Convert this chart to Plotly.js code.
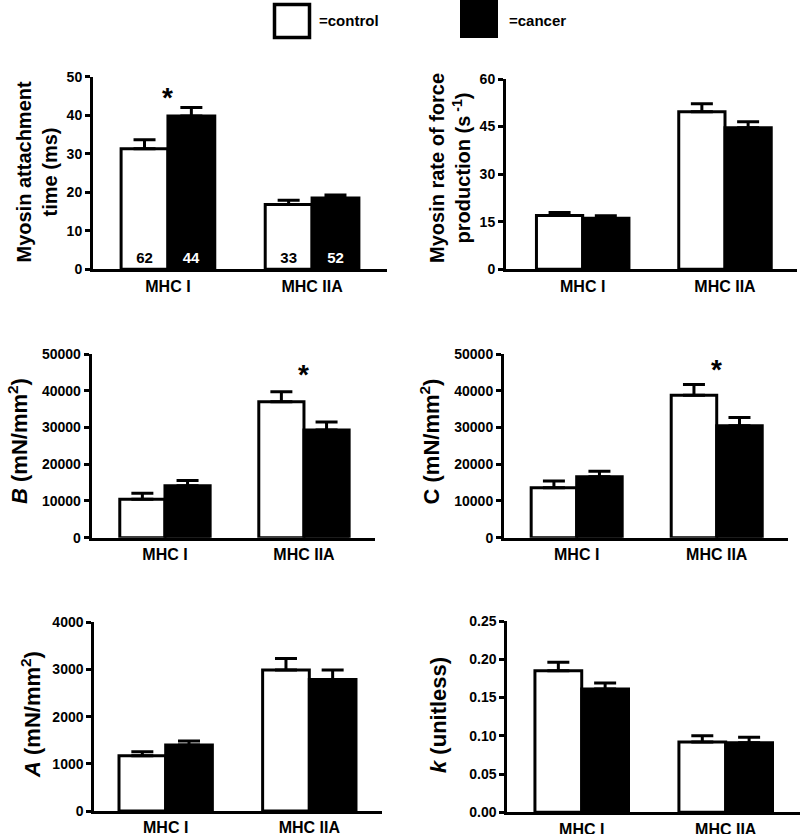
<!DOCTYPE html>
<html>
<head>
<meta charset="utf-8">
<script src="https://cdn.plot.ly/plotly-3.0.1.min.js"></script>
<style>html,body{margin:0;padding:0;background:#fff;}#chart{width:800px;height:834px;}</style>
</head>
<body>
<div id="chart"></div>
<script>
// ---- data ----
const categories = ['MHC I', 'MHC IIA'];
const groupNames = ['=control', '=cancer'];

const attachControl = [31.3, 16.8];
const attachControlErr = [2.3, 1.1];
const attachCancer = [39.8, 18.5];
const attachCancerErr = [2.2, 0.8];
const nControl = [62, 33];
const nCancer = [44, 52];

const rateControl = [17.0, 49.7];
const rateControlErr = [0.9, 2.5];
const rateCancer = [16.1, 44.6];
const rateCancerErr = [0.8, 1.9];

const bControl = [10450, 37000];
const bControlErr = [1630, 2700];
const bCancer = [14150, 29300];
const bCancerErr = [1400, 2200];

const cControl = [13600, 38800];
const cControlErr = [1800, 2900];
const cCancer = [16600, 30500];
const cCancerErr = [1500, 2200];

const aControl = [1170, 2990];
const aControlErr = [85, 240];
const aCancer = [1400, 2790];
const aCancerErr = [85, 200];

const kControl = [0.185, 0.092];
const kControlErr = [0.011, 0.008];
const kCancer = [0.161, 0.091];
const kCancerErr = [0.008, 0.007];

const yTitles = [
  'Myosin attachment<br>time (ms)',
  'Myosin rate of force<br>production (s<sup> -1</sup>)',
  '<i>B</i> (mN/mm<sup>2</sup>)',
  'C (mN/mm<sup>2</sup>)',
  '<i>A</i> (mN/mm<sup>2</sup>)',
  '<i>k</i> (unitless)'
];
const yRanges = [[0, 50], [0, 60], [0, 50000], [0, 50000], [0, 4000], [0, 0.25]];
const yDticks = [10, 15, 10000, 10000, 1000, 0.05];
const yFormats = ['d', 'd', 'd', 'd', 'd', '.2f'];
// significance marker per panel: [panel index, category, y]
const sigMarks = [[0, 'MHC I', 44.6], [2, 'MHC IIA', 44500], [3, 'MHC IIA', 45900]];

// ---- layout geometry ----
const W = 800, H = 834;
const px = v => v / W;
const py = v => 1 - v / H;
const panels = [
  {x: [93, 387], y: [269.3, 76.7], r: [-0.52, 1.52]},
  {x: [506, 797], y: [269.3, 79], r: [-0.539, 1.506]},
  {x: [91.7, 375], y: [537.7, 354], r: [-0.527, 1.511]},
  {x: [504, 788], y: [537.7, 354], r: [-0.519, 1.509]},
  {x: [94.3, 381.7], y: [811, 622.3], r: [-0.497, 1.504]},
  {x: [507.3, 800], y: [812.3, 621], r: [-0.517, 1.516]}
];
const titlePos = [
  {x: 36.5, y: 172, s: 20},
  {x: 450, y: 168, s: 20},
  {x: 18, y: 441, s: 22},
  {x: 429, y: 441.5, s: 22},
  {x: 31, y: 715, s: 22},
  {x: 438, y: 715, s: 22}
];

const FONT = 'Liberation Sans, Arial, sans-serif';
const series = [
  [attachControl, attachControlErr, attachCancer, attachCancerErr],
  [rateControl, rateControlErr, rateCancer, rateCancerErr],
  [bControl, bControlErr, bCancer, bCancerErr],
  [cControl, cControlErr, cCancer, cCancerErr],
  [aControl, aControlErr, aCancer, aCancerErr],
  [kControl, kControlErr, kCancer, kCancerErr]
];

const traces = [];
const layout = {
  width: W, height: H,
  margin: {l: 0, r: 0, t: 0, b: 0},
  paper_bgcolor: '#fff', plot_bgcolor: 'rgba(0,0,0,0)',
  showlegend: false,
  barmode: 'group', bargap: 0.35, bargroupgap: 0,
  font: {family: FONT, color: '#000', weight: 'bold'},
  annotations: [], shapes: []
};

series.forEach((s, i) => {
  const xa = 'x' + (i === 0 ? '' : i + 1);
  const ya = 'y' + (i === 0 ? '' : i + 1);
  const errStyle = arr => ({type: 'data', symmetric: false, array: arr, arrayminus: [0, 0],
    color: '#000', thickness: 3, width: 11});
  const ctrl = {
    type: 'bar', x: categories, y: s[0], name: groupNames[0], xaxis: xa, yaxis: ya,
    marker: {color: '#fff', line: {color: '#000', width: 3}},
    error_y: errStyle(s[1]), hoverinfo: 'none'
  };
  const canc = {
    type: 'bar', x: categories, y: s[2], name: groupNames[1], xaxis: xa, yaxis: ya,
    marker: {color: '#000', line: {color: '#000', width: 3}},
    error_y: errStyle(s[3]), hoverinfo: 'none'
  };
  if (i === 0) {
    Object.assign(ctrl, {text: nControl.map(String), textposition: 'inside', insidetextanchor: 'start',
      textangle: 0, constraintext: 'none', textfont: {color: '#000', size: 15, family: FONT, weight: 'bold'}});
    Object.assign(canc, {text: nCancer.map(String), textposition: 'inside', insidetextanchor: 'start',
      textangle: 0, constraintext: 'none', textfont: {color: '#fff', size: 15, family: FONT, weight: 'bold'}});
  }
  traces.push(ctrl, canc);

  const p = panels[i];
  const key = i === 0 ? '' : String(i + 1);
  layout['xaxis' + key] = {
    domain: [px(p.x[0]), px(p.x[1])], anchor: ya, range: p.r, type: 'category',
    showline: true, linecolor: '#000', linewidth: 3, ticks: '', showgrid: false, zeroline: false,
    tickfont: {family: FONT, size: 16, color: '#000', weight: 'bold'}, fixedrange: true
  };
  layout['yaxis' + key] = {
    domain: [py(p.y[0]), py(p.y[1])], anchor: xa, range: yRanges[i],
    dtick: yDticks[i], tick0: 0, tickformat: yFormats[i],
    showline: true, linecolor: '#000', linewidth: 3, ticks: 'outside', ticklen: 5, tickwidth: 3,
    tickcolor: '#000', showgrid: false, zeroline: false,
    tickfont: {family: FONT, size: 14, color: '#000', weight: 'bold'}, fixedrange: true
  };
  const t = titlePos[i];
  layout.annotations.push({
    text: yTitles[i], xref: 'paper', yref: 'paper', x: px(t.x), y: py(t.y),
    xanchor: 'center', yanchor: 'middle', textangle: -90, showarrow: false,
    font: {family: FONT, size: t.s, color: '#000', weight: 'bold'}
  });
});

sigMarks.forEach(m => {
  const key = m[0] === 0 ? '' : String(m[0] + 1);
  layout.annotations.push({
    text: '*', xref: 'x' + key, yref: 'y' + key, x: m[1], y: m[2],
    showarrow: false, xanchor: 'center', yanchor: 'middle',
    font: {family: FONT, size: 28, color: '#000', weight: 'bold'}
  });
});

// legend key
layout.shapes.push(
  {type: 'rect', xref: 'paper', yref: 'paper', x0: px(274.5), x1: px(309.5), y0: py(37.5), y1: py(4.5),
   line: {color: '#000', width: 3.5}, fillcolor: '#fff'},
  {type: 'rect', xref: 'paper', yref: 'paper', x0: px(460), x1: px(498), y0: py(38), y1: py(0),
   line: {color: '#000', width: 0}, fillcolor: '#000'}
);
layout.annotations.push(
  {text: groupNames[0], xref: 'paper', yref: 'paper', x: px(317), y: py(21), xanchor: 'left', yanchor: 'middle',
   showarrow: false, font: {family: FONT, size: 15, color: '#000', weight: 'bold'}},
  {text: groupNames[1], xref: 'paper', yref: 'paper', x: px(507), y: py(21), xanchor: 'left', yanchor: 'middle',
   showarrow: false, font: {family: FONT, size: 15, color: '#000', weight: 'bold'}}
);

Plotly.newPlot('chart', traces, layout, {staticPlot: true, displayModeBar: false});
</script>
</body>
</html>
